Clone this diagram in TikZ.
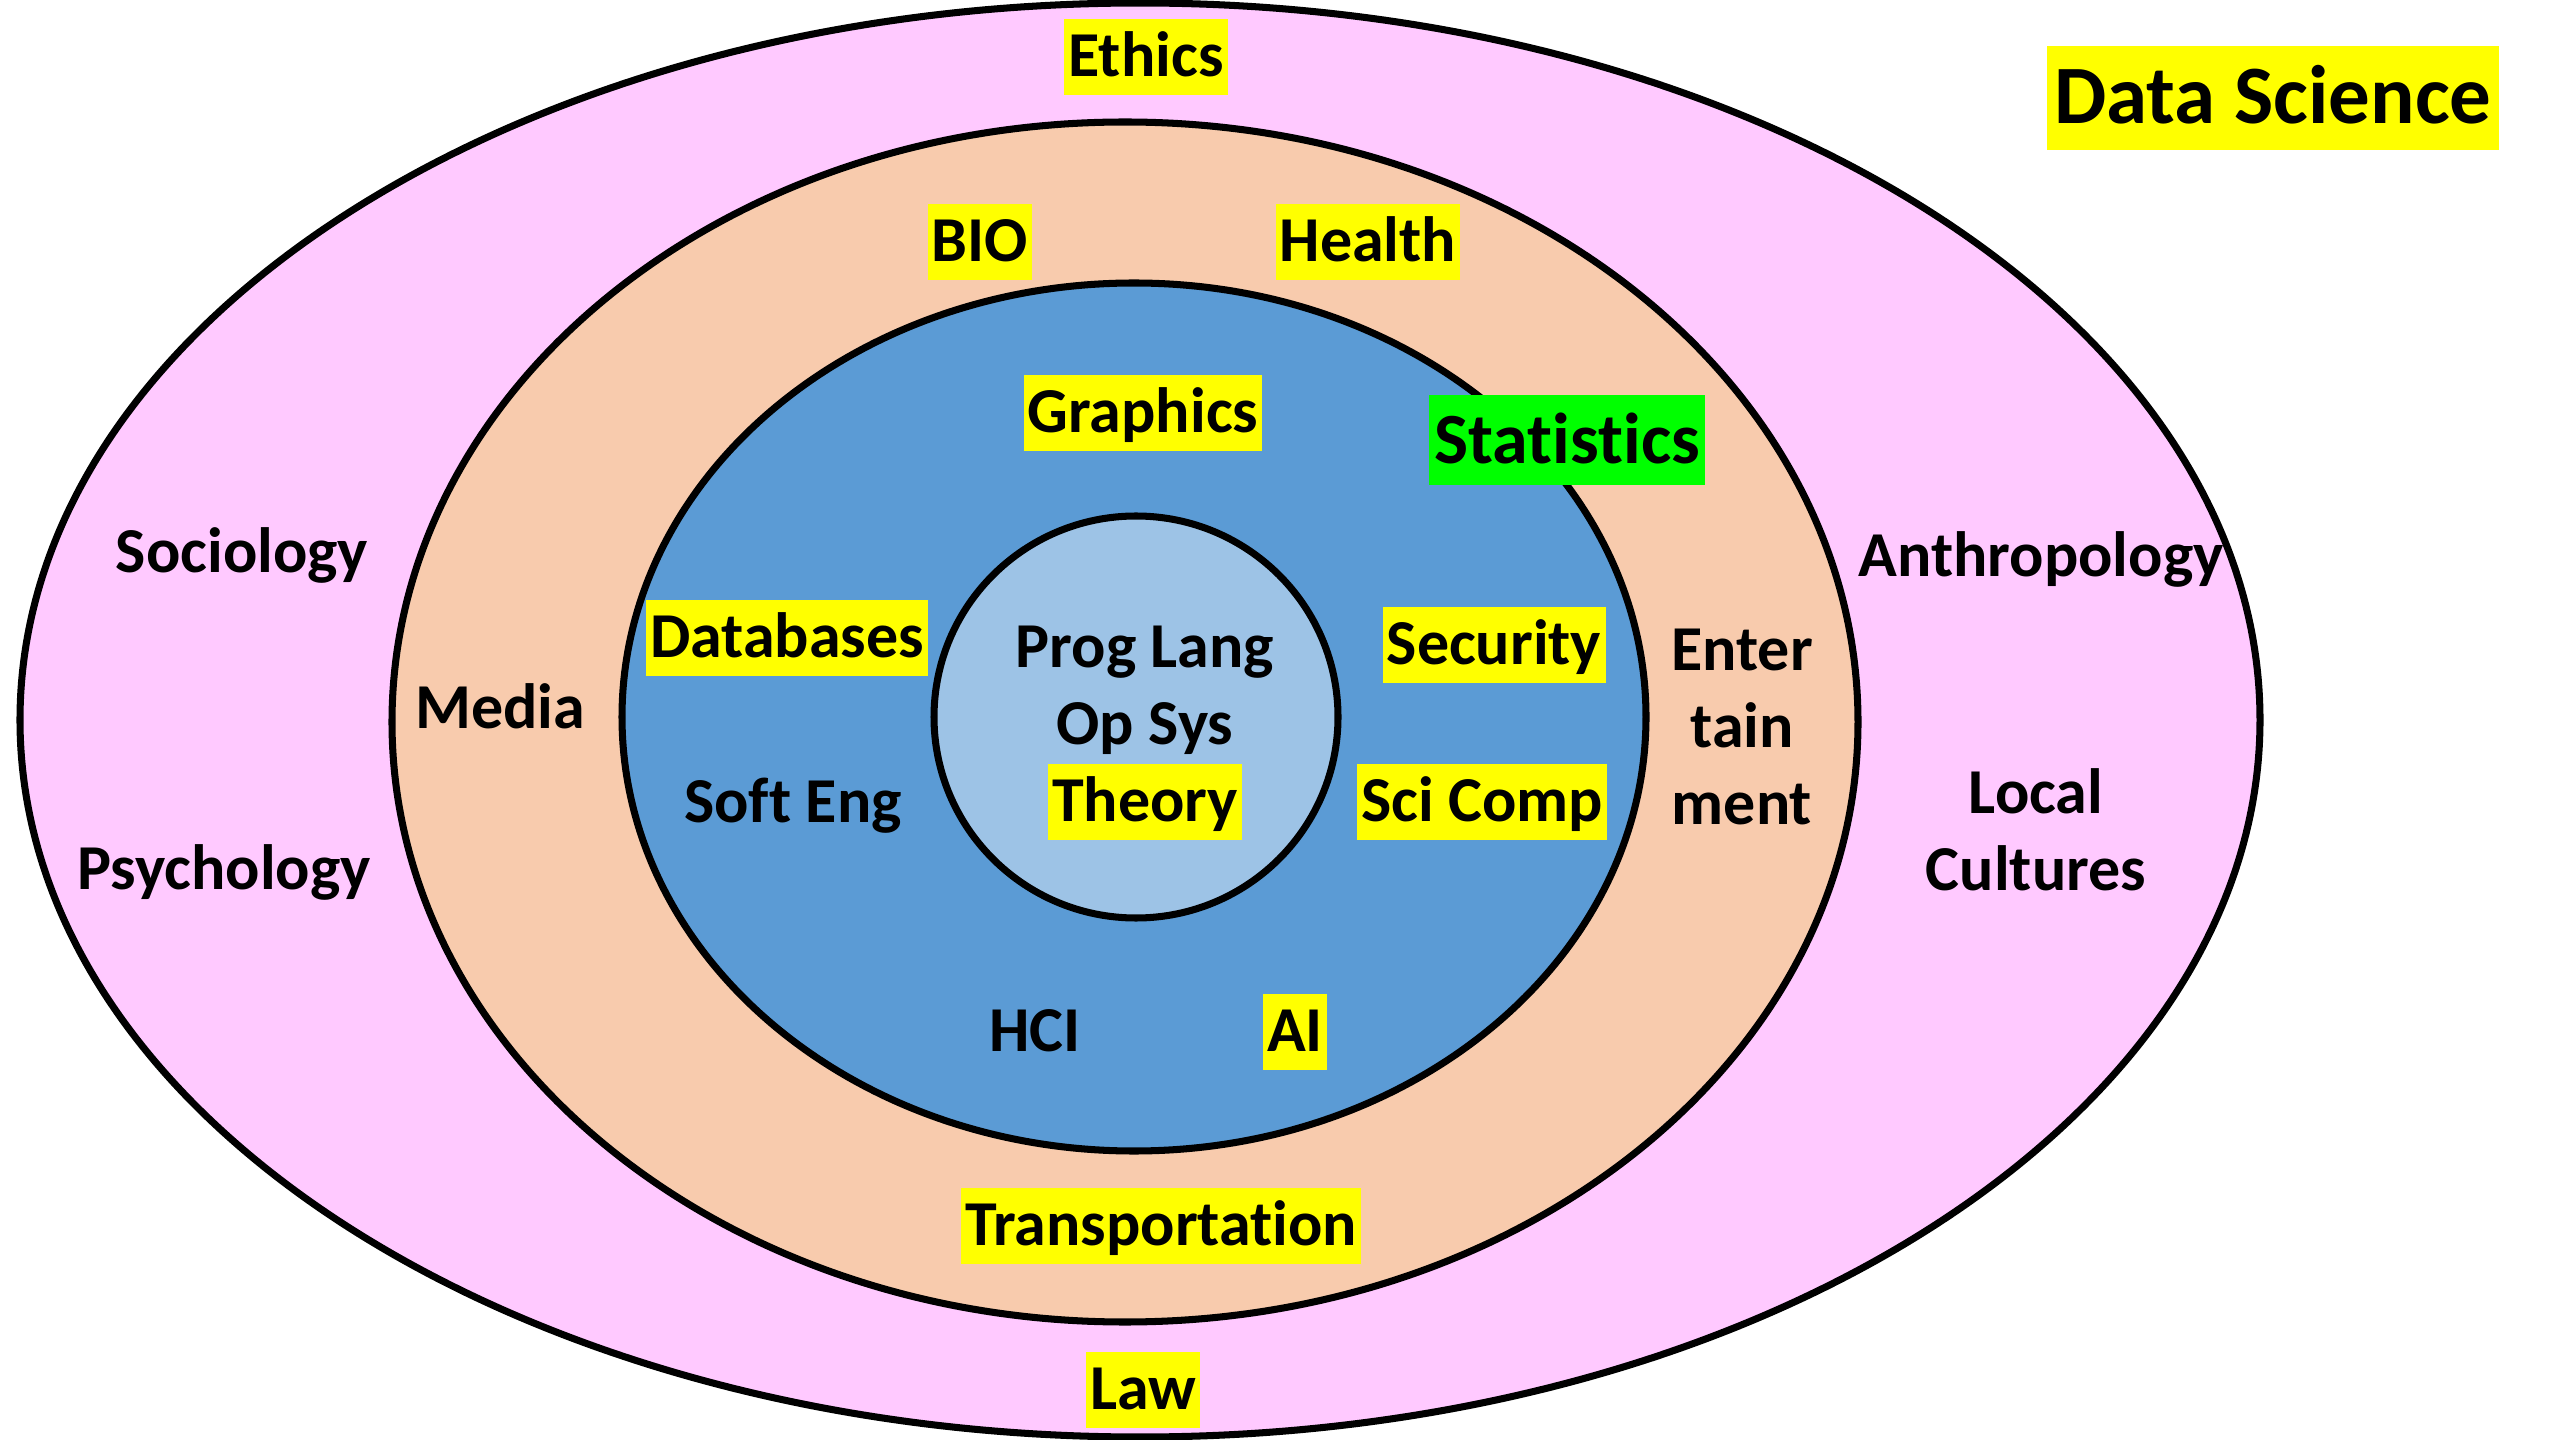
\documentclass[tikz,border=0pt]{standalone}
\usepackage{fontspec}
\setmainfont{Carlito}[Ligatures=NoCommon]
\usepackage{tikz}
\usetikzlibrary{positioning}
\definecolor{ringpink}{HTML}{FFC9FF}
\definecolor{ringpeach}{HTML}{F8CBAD}
\definecolor{ringblue}{HTML}{5B9BD5}
\definecolor{corelight}{HTML}{9DC3E6}
\definecolor{hiyellow}{HTML}{FFFF00}
\definecolor{higreen}{HTML}{00FF00}
\tikzset{
  ring/.style={draw=black, line width=2pt},
  field/.style={font=\fontsize{18.2}{22}\selectfont\bfseries, inner xsep=1.2pt,
                inner ysep=0pt, text height=16.3pt, text depth=5.4pt},
  marked/.style={field, fill=hiyellow},
  multi/.style={font=\fontsize{18.2}{22}\selectfont\bfseries, align=center, inner sep=0pt},
  bigmark/.style={font=\fontsize{20.5}{25}\selectfont\bfseries, fill=higreen,
                  inner xsep=1.5pt, inner ysep=0pt, text height=19.5pt, text depth=6pt},
  titlebox/.style={font=\fontsize{23.6}{28}\selectfont\bfseries, fill=hiyellow,
                   inner xsep=2pt, inner ysep=0pt, text height=22pt, text depth=7.5pt},
}

\begin{document}
\begin{tikzpicture}[x=0.01cm, y=0.01cm]

\useasboundingbox[fill=white] (0,0) rectangle (2560,-1440);

% rings, outside in
\draw[ring, fill=ringpink]  (1140,-720) ellipse [x radius=1120, y radius=717];
\draw[ring, fill=ringpeach] (1125,-722) ellipse [x radius=733, y radius=600];
\draw[ring, fill=ringblue]  (1134,-717) ellipse [x radius=512, y radius=434];
\draw[ring, fill=corelight] (1136,-717) ellipse [x radius=202, y radius=201];

% title
\node[titlebox] (title) at (2273,-98) {Data Science};

% outer ring
\node[marked] (ethics) at (1146,-57) {Ethics};
\node[field] (socio) at (242,-553) {Sociology};
\node[field] (psych) at (224,-870) {Psychology};
\node[field] (anthro) at (2041,-557) {Anthropology};
\node[multi] (local) at (2036,-830) {Local\\Cultures};
\node[marked] (law) at (1143,-1390) {Law};

% peach ring
\node[marked] (bio) at (980,-242) {BIO};
\node[marked] (health) at (1368,-242) {Health};
\node[field] (media) at (500,-709) {Media};
\node[multi] (enter) at (1742,-727) {Enter\\tain\\ment};
\node[marked] (transp) at (1161,-1226) {Transportation};

% blue ring
\node[marked] (graphics) at (1143,-413) {Graphics};
\node[bigmark] (stats) at (1567,-440) {Statistics};
\node[marked] (dbase) at (787,-638) {Databases};
\node[field] (softeng) at (793,-803) {Soft Eng};
\node[marked] (secur) at (1494,-645) {Security};
\node[marked] (scicomp) at (1482,-802) {Sci Comp};
\node[field] (hci) at (1035,-1032) {HCI};
\node[marked] (ai) at (1295,-1032) {AI};

% core
\node[field] (proglang) at (1145,-648) {Prog Lang};
\node[field] (opsys) at (1145,-725) {Op Sys};
\node[marked] (theory) at (1145,-802) {Theory};

\end{tikzpicture}
\end{document}
